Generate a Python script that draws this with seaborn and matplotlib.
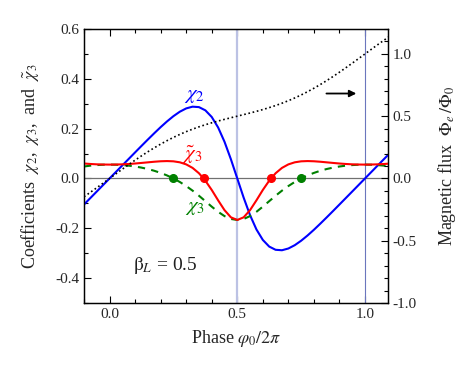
import pandas as pd
import matplotlib
matplotlib.use("Agg")
import matplotlib.pyplot as plt
import seaborn as sns

# phase phi0/2pi
phase = [-0.1, -0.075, -0.05, -0.025, 0.0, 0.025, 0.05, 0.075, 0.1, 0.125, 0.15, 0.175,
         0.2, 0.225, 0.25, 0.275, 0.3, 0.325, 0.35, 0.375, 0.4, 0.425, 0.45, 0.475,
         0.5, 0.525, 0.55, 0.575, 0.6, 0.625, 0.65, 0.675, 0.7, 0.725, 0.75, 0.775,
         0.8, 0.825, 0.85, 0.875, 0.9, 0.925, 0.95, 0.975, 1.0, 1.025, 1.05, 1.075, 1.1]

chi2 = [-0.1046, -0.0785, -0.0524, -0.0262, 0.0, 0.0262, 0.0524, 0.0785, 0.1046, 0.1306,
        0.1563, 0.1815, 0.2060, 0.2290, 0.2500, 0.2679, 0.2812, 0.2882, 0.2864, 0.2735,
        0.2468, 0.2047, 0.1473, 0.0772, 0.0, -0.0772, -0.1473, -0.2047, -0.2468, -0.2735,
        -0.2864, -0.2882, -0.2812, -0.2679, -0.2500, -0.2290, -0.2060, -0.1815, -0.1563,
        -0.1306, -0.1046, -0.0785, -0.0524, -0.0262, 0.0, 0.0262, 0.0524, 0.0785, 0.1046]

chi3 = [0.0480, 0.0514, 0.0537, 0.0551, 0.0556, 0.0551, 0.0537, 0.0514, 0.0480, 0.0435,
        0.0379, 0.0308, 0.0223, 0.0121, 0.0, -0.0141, -0.0305, -0.0489, -0.0694, -0.0912,
        -0.1132, -0.1339, -0.1511, -0.1626, -0.1667, -0.1626, -0.1511, -0.1339, -0.1132,
        -0.0912, -0.0694, -0.0489, -0.0305, -0.0141, 0.0, 0.0121, 0.0223, 0.0308, 0.0379,
        0.0435, 0.0480, 0.0514, 0.0537, 0.0551, 0.0556, 0.0551, 0.0537, 0.0514, 0.0480]

chi3_tilde = [0.06, 0.0581, 0.0567, 0.0559, 0.0556, 0.0559, 0.0567, 0.0581, 0.06, 0.0623,
              0.0647, 0.0671, 0.069, 0.0698, 0.0688, 0.0648, 0.0565, 0.0424, 0.0209, -0.0089,
              -0.0462, -0.0878, -0.1272, -0.156, -0.1667, -0.156, -0.1272, -0.0878, -0.0462,
              -0.0089, 0.0209, 0.0424, 0.0565, 0.0648, 0.0688, 0.0698, 0.069, 0.0671, 0.0647,
              0.0623, 0.06, 0.0581, 0.0567, 0.0559, 0.0556, 0.0559, 0.0567, 0.0581, 0.06]

flux = [-0.1468, -0.1111, -0.0746, -0.0374, 0.0, 0.0374, 0.0746, 0.1111, 0.1468, 0.1813,
        0.2144, 0.2459, 0.2757, 0.3036, 0.3296, 0.3536, 0.3757, 0.3959, 0.4144, 0.4313,
        0.4468, 0.4611, 0.4746, 0.4874, 0.5, 0.5126, 0.5254, 0.5389, 0.5532, 0.5687,
        0.5856, 0.6041, 0.6243, 0.6464, 0.6704, 0.6964, 0.7243, 0.7541, 0.7856, 0.8187,
        0.8532, 0.8889, 0.9254, 0.9626, 1.0, 1.0374, 1.0746, 1.1111, 1.1468]

# zero crossings marked with dots
red_dots_x = [0.368, 0.632]
green_dots_x = [0.25, 0.75]

df = pd.DataFrame({'phase': phase, 'chi2': chi2, 'chi3': chi3,
                   'chi3t': chi3_tilde, 'flux': flux})

sns.set_style("ticks")
plt.rcParams['font.family'] = ['Liberation Serif', 'DejaVu Serif']
plt.rcParams['mathtext.fontset'] = 'stix'
plt.rcParams['axes.unicode_minus'] = False

fig, ax = plt.subplots(figsize=(4.71, 3.71), dpi=100)
fig.subplots_adjust(left=84/471, right=388/471, top=1-29/371, bottom=1-303/371)

ax.axhline(0, color='#707070', lw=0.9, zorder=1)
ax.axvline(0.5, color='#bcc2e4', lw=1.6, zorder=1)
ax.axvline(1.0, color='#6b76bd', lw=0.8, zorder=1)

sns.lineplot(data=df, x='phase', y='chi2', ax=ax, color='#0000ff', lw=1.5, zorder=3)
sns.lineplot(data=df, x='phase', y='chi3', ax=ax, color='#008000', lw=1.5,
             linestyle=(0, (3.5, 3)), zorder=3)
sns.lineplot(data=df, x='phase', y='chi3t', ax=ax, color='#ff0000', lw=1.5, zorder=4)
ax.plot(red_dots_x, [0, 0], 'o', color='#ff0000', ms=5.5, zorder=5)
ax.plot(green_dots_x, [0, 0], 'o', color='#008000', ms=5.5, zorder=5)

ax.set_xlim(-0.1, 1.09)
ax.set_ylim(-0.5, 0.6)
ax.set_xticks([0.0, 0.5, 1.0])
ax.set_xticklabels(['0.0', '0.5', '1.0'])
ax.set_xticks([i / 10 for i in range(-1, 11)], minor=True)
ax.set_yticks([-0.4, -0.2, 0.0, 0.2, 0.4, 0.6])
ax.set_yticklabels(['-0.4', '-0.2', '0.0', '0.2', '0.4', '0.6'])
ax.set_yticks([i / 10 for i in range(-5, 7)], minor=True)
ax.tick_params(which='both', direction='in', top=True, right=False, labelsize=11,
               width=0.8, color='k')
ax.tick_params(which='major', length=5)
ax.tick_params(which='minor', length=3)
ax.set_xlabel(r'Phase $\varphi_0/2\pi$', fontsize=13, labelpad=5)
ax.set_ylabel(r'Coefficients  $\chi_2$,  $\chi_3$,  and  $\tilde{\chi}_3$', fontsize=13,
              labelpad=10)

ax.text(0.333, 0.335, r'$\chi_2$', color='#0000ff', fontsize=15, ha='center', va='center')
ax.text(0.325, 0.093, r'$\tilde{\chi}_3$', color='#ff0000', fontsize=15, ha='center', va='center')
ax.text(0.333, -0.117, r'$\chi_3$', color='#008000', fontsize=15, ha='center', va='center')
ax.text(0.22, -0.35, r'$\mathrm{\beta}_L$ = 0.5', color='#202020', fontsize=14,
        ha='center', va='center')

ax2 = ax.twinx()
sns.lineplot(data=df, x='phase', y='flux', ax=ax2, color='k', lw=1.2,
             linestyle=(0, (1, 1.6)))
ax2.set_ylim(-1.0, 1.2)
ax2.set_yticks([-1.0, -0.5, 0.0, 0.5, 1.0])
ax2.set_yticklabels(['-1.0', '-0.5', '0.0', '0.5', '1.0'])
ax2.set_yticks([i / 10 for i in range(-10, 13)], minor=True)
ax2.tick_params(which='both', direction='in', labelsize=11, width=0.8, color='k')
ax2.tick_params(which='major', length=5)
ax2.tick_params(which='minor', length=3)
ax2.set_ylabel(r'Magnetic flux  $\Phi_e\,/\Phi_0$', fontsize=13, labelpad=14)
ax2.annotate('', xy=(0.966, 0.682), xytext=(0.849, 0.682),
             arrowprops=dict(arrowstyle='-|>', color='k', lw=1.3, mutation_scale=10,
                             shrinkA=0, shrinkB=0))

for a in (ax, ax2):
    for s in a.spines.values():
        s.set_color('k')
        s.set_linewidth(0.9)

fig.savefig("out.png", dpi=100)
